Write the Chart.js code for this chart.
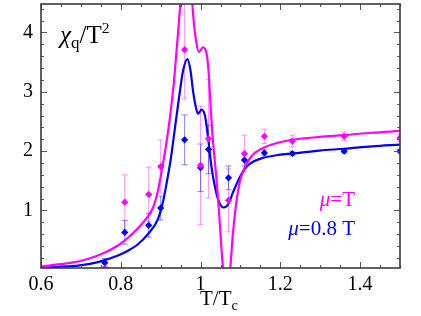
<!DOCTYPE html>
<html>
<head>
<meta charset="utf-8">
<script src="https://cdn.jsdelivr.net/npm/chart.js@4"></script>
<style>
  body { margin: 0; background: #fff; }
  #wrap { position: relative; width: 421px; height: 316px; }
  .lbl { position: absolute; font-family: "Liberation Serif", "DejaVu Serif", serif; line-height: 1; white-space: nowrap; }
  .sb { font-size: 68%; position: relative; top: 0.32em; }
  .sp { font-size: 62%; position: relative; top: -0.62em; }
</style>
</head>
<body>
<div id="wrap">
  <canvas id="chart" width="421" height="316"></canvas>
  <div class="lbl" style="left:60px;top:22px;font-size:25px;color:#000"><i>χ</i><span class="sb">q</span>/T<span class="sp">2</span></div>
  <div class="lbl" style="left:200px;top:288px;font-size:21px;color:#000">T/T<span class="sb">c</span></div>
  <div class="lbl" style="right:66px;top:189px;font-size:21px;color:#ff00ff"><i>μ</i>=T</div>
  <div class="lbl" style="right:66px;top:218px;font-size:21px;color:#0000ff"><i>μ</i>=0.8 T</div>
</div>
<script>
// Lattice points (both chemical potentials share the same temperatures)
const pointX = [0.76, 0.81, 0.87, 0.90, 0.96, 1.00, 1.02, 1.07, 1.11, 1.16, 1.23, 1.36, 1.50];
const magentaY = [0.02, 1.14, 1.27, 1.74, 3.71, 1.76, 2.21, 1.17, 1.96, 2.25, 2.17, 2.25, 2.22];
const magentaErr = [0, 0.46, 0.46, 0.45, 0.83, 1.0, 1.0, 0.53, 0.31, 0.12, 0.10, 0.07, 0.06];
const blueY = [0.12, 0.63, 0.75, 1.04, 2.19, 1.72, 2.03, 1.55, 1.85, 1.97, 1.96, 2.00, 2.00];
const blueErr = [0.07, 0.2, 0.2, 0.2, 0.42, 0.4, 0.41, 0.2, 0.1, 0.05, 0.03, 0.03, 0.03];

// Model curves, mu = T
const curveMagX = [0.600, 0.643, 0.693, 0.743, 0.793, 0.818, 0.843, 0.868, 0.881, 0.893, 0.903, 0.913, 0.923, 0.933,
  0.943, 0.951, 0.964, 0.976, 0.982, 0.989, 0.996, 1.006, 1.015, 1.020, 1.024, 1.029, 1.034, 1.039, 1.045, 1.051,
  1.056, 1.065, 1.074, 1.081, 1.090, 1.099, 1.111, 1.124, 1.136, 1.162, 1.199, 1.229, 1.299, 1.360, 1.430, 1.500];
const curveMagY = [0.055, 0.09, 0.14, 0.24, 0.41, 0.54, 0.70, 0.90, 1.05, 1.33, 1.68, 2.08, 2.55, 3.15,
  3.95, 4.6, 5.3, 4.8, 4.25, 3.85, 3.67, 3.75, 3.65, 3.35, 2.9, 2.35, 1.95, 1.6, 1.1, 0.5,
  0.05, -0.35, 0.0, 0.6, 1.15, 1.5, 1.73, 1.88, 1.97, 2.07, 2.15, 2.19, 2.24, 2.27, 2.31, 2.34];

// Model curves, mu = 0.8 T
const curveBlueX = [0.600, 0.643, 0.693, 0.743, 0.793, 0.818, 0.843, 0.868, 0.893, 0.906, 0.916, 0.926, 0.936, 0.946,
  0.956, 0.967, 0.975, 0.981, 0.989, 0.994, 1.002, 1.011, 1.019, 1.027, 1.036, 1.046, 1.058, 1.069, 1.081, 1.099,
  1.111, 1.124, 1.149, 1.199, 1.229, 1.299, 1.360, 1.430, 1.500];
const curveBlueY = [0.03, 0.05, 0.07, 0.13, 0.24, 0.32, 0.43, 0.60, 0.85, 1.15, 1.5, 1.9, 2.4, 2.9,
  3.35, 3.55, 3.35, 3.02, 2.72, 2.63, 2.70, 2.6, 2.22, 1.75, 1.4, 1.15, 1.05, 1.1, 1.3, 1.57,
  1.70, 1.79, 1.87, 1.94, 1.96, 2.01, 2.04, 2.08, 2.11];

const xTicks = [0.6, 0.8, 1.0, 1.2, 1.4];
const yTicks = [1, 2, 3, 4];

const MAGENTA = '#ff00ff';
const BLUE = '#0000ff';

function toXY(xs, ys) {
  return xs.map((x, i) => ({ x: x, y: ys[i] }));
}

// error bars under the points
const errorBars = {
  id: 'errorBars',
  beforeDatasetsDraw(chart) {
    const { ctx, chartArea, scales } = chart;
    const sets = [
      { ys: magentaY, errs: magentaErr, color: 'rgba(255,60,255,0.55)' },
      { ys: blueY, errs: blueErr, color: 'rgba(40,40,255,0.55)' }
    ];
    ctx.save();
    ctx.beginPath();
    ctx.rect(chartArea.left, chartArea.top, chartArea.right - chartArea.left, chartArea.bottom - chartArea.top);
    ctx.clip();
    ctx.lineWidth = 1;
    sets.forEach(s => {
      ctx.strokeStyle = s.color;
      pointX.forEach((x, i) => {
        if (!s.errs[i]) return;
        const px = scales.x.getPixelForValue(x);
        const top = scales.y.getPixelForValue(s.ys[i] + s.errs[i]);
        const bot = scales.y.getPixelForValue(s.ys[i] - s.errs[i]);
        ctx.beginPath();
        ctx.moveTo(px, top); ctx.lineTo(px, bot);
        ctx.moveTo(px - 3, top); ctx.lineTo(px + 3, top);
        ctx.moveTo(px - 3, bot); ctx.lineTo(px + 3, bot);
        ctx.stroke();
      });
    });
    ctx.restore();
  }
};

// box frame with inward ticks
const frame = {
  id: 'frame',
  afterDraw(chart) {
    const { ctx, chartArea: a, scales } = chart;
    ctx.save();
    ctx.strokeStyle = '#555';
    ctx.lineWidth = 1;
    ctx.beginPath();
    for (let v = 0.6; v <= 1.5001; v += 0.05) {
      const px = Math.round(scales.x.getPixelForValue(v)) + 0.5;
      const major = Math.abs(v * 5 - Math.round(v * 5)) < 1e-6;
      const len = major ? 6 : 3;
      ctx.moveTo(px, a.bottom); ctx.lineTo(px, a.bottom - len);
      ctx.moveTo(px, a.top); ctx.lineTo(px, a.top + len);
    }
    for (let v = 0.2; v <= 4.4001; v += 0.2) {
      const py = Math.round(scales.y.getPixelForValue(v)) + 0.5;
      const major = Math.abs(v - Math.round(v)) < 1e-6;
      const len = major ? 6 : 3;
      ctx.moveTo(a.left, py); ctx.lineTo(a.left + len, py);
      ctx.moveTo(a.right, py); ctx.lineTo(a.right - len, py);
    }
    ctx.stroke();
    ctx.strokeStyle = '#3a3a3a';
    ctx.lineWidth = 1.6;
    ctx.strokeRect(a.left, a.top, a.right - a.left, a.bottom - a.top);
    ctx.restore();
  }
};

Chart.defaults.font.family = "'Liberation Serif'";
const tickFont = { family: "'Liberation Serif'", size: 20 };

new Chart(document.getElementById('chart'), {
  type: 'scatter',
  data: {
    datasets: [
      {
        data: toXY(pointX, magentaY),
        pointStyle: 'rectRot', pointRadius: 3.6,
        backgroundColor: MAGENTA, borderColor: MAGENTA, borderWidth: 0,
        clip: 0, order: 0
      },
      {
        data: toXY(pointX, blueY),
        pointStyle: 'rectRot', pointRadius: 3.6,
        backgroundColor: BLUE, borderColor: BLUE, borderWidth: 0,
        clip: 0, order: 0
      },
      {
        data: toXY(curveMagX, curveMagY),
        showLine: true, pointRadius: 0, borderColor: MAGENTA, borderWidth: 2.2,
        cubicInterpolationMode: 'monotone', clip: 0, order: 1
      },
      {
        data: toXY(curveBlueX, curveBlueY),
        showLine: true, pointRadius: 0, borderColor: BLUE, borderWidth: 2.2,
        cubicInterpolationMode: 'monotone', clip: 0, order: 1
      }
    ]
  },
  options: {
    responsive: false,
    animation: false,
    devicePixelRatio: 1,
    layout: { padding: { top: 1, right: 21, left: 0, bottom: 0 } },
    plugins: { legend: { display: false }, tooltip: { enabled: false } },
    scales: {
      x: {
        type: 'linear', min: 0.6, max: 1.5,
        grid: { display: false, drawTicks: false },
        border: { display: false },
        afterBuildTicks: s => { s.ticks = xTicks.map(v => ({ value: v })); },
        afterFit: s => { s.height = 48; s.paddingLeft = 0; s.paddingRight = 0; },
        ticks: { font: tickFont, color: '#000', padding: 5, maxRotation: 0,
          callback: v => String(Math.round(v * 10) / 10) }
      },
      y: {
        type: 'linear', min: 0.03, max: 4.48,
        grid: { display: false, drawTicks: false },
        border: { display: false },
        afterBuildTicks: s => { s.ticks = yTicks.map(v => ({ value: v })); },
        afterFit: s => { s.width = 41; s.paddingTop = 0; s.paddingBottom = 0; },
        ticks: { font: tickFont, color: '#000', padding: 8 }
      }
    }
  },
  plugins: [errorBars, frame]
});
</script>
</body>
</html>
